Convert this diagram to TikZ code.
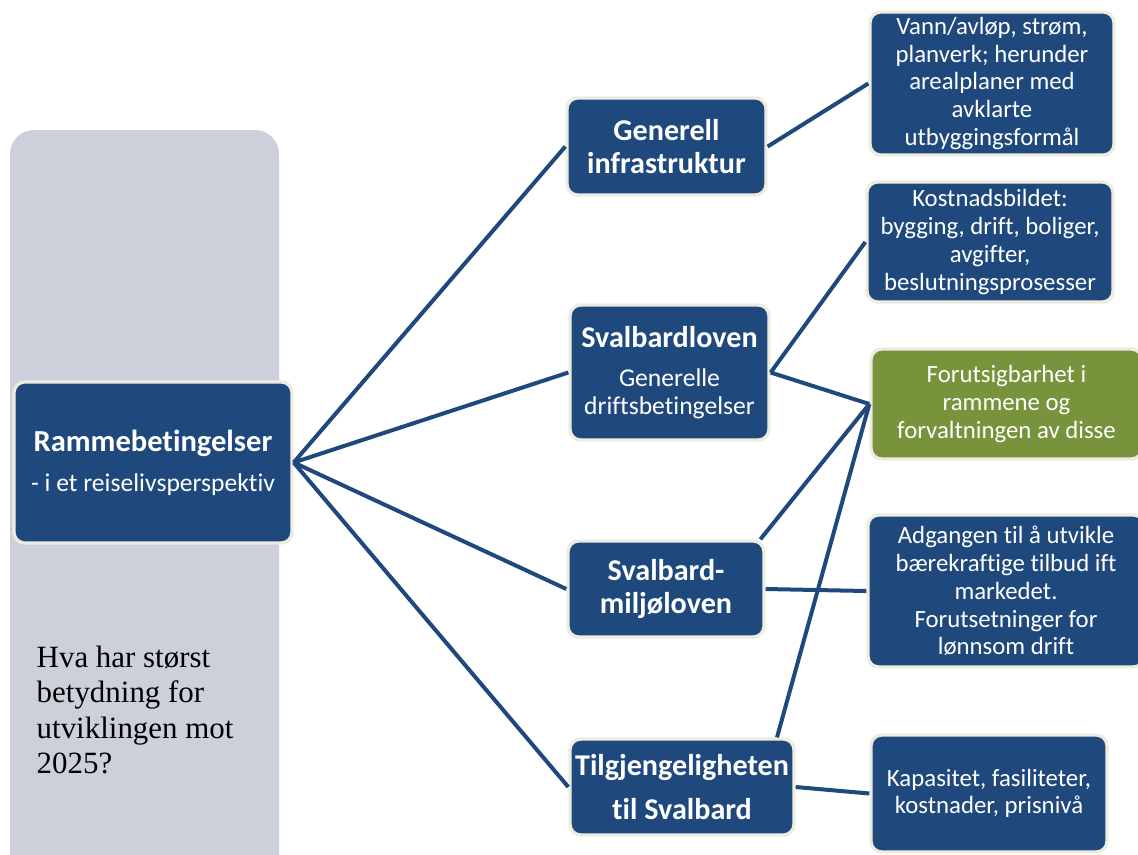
\documentclass[tikz,border=0pt]{standalone}
\usepackage{fontspec}
\setmainfont{Carlito}[RawFeature={-liga;-clig;-calt}]
\newfontfamily\questfont{Liberation Serif}
\definecolor{navy}{HTML}{1F497D}
\definecolor{cream}{HTML}{EEECE1}
\definecolor{olive}{HTML}{77933C}
\definecolor{panel}{HTML}{CCD0DA}
\tikzset{
	midbox/.style={draw=cream, line width=2.5pt, fill=navy, rounded corners=8pt, text=white, align=center, inner sep=0pt, font=\bfseries\fontsize{22.6}{24.75}\selectfont},
	infobox/.style={draw=cream, line width=2.5pt, fill=navy, rounded corners=8pt, text=white, align=center, inner sep=0pt, font=\fontsize{18.6}{20.8}\selectfont},
	link/.style={draw=navy, line width=3pt}
}
\begin{document}
\begin{tikzpicture}[x=0.75pt,y=-0.75pt]
\useasboundingbox (0,0) rectangle (1138,854);
\fill[panel, rounded corners=18pt] (10,130) rectangle (279,900);
\node[anchor=north west, align=left, font=\questfont\fontsize{23.2}{26.6}\selectfont] (quest) at (32,641) {Hva har størst\\betydning for\\utviklingen mot\\2025?};

\node[midbox, font=\fontsize{19.2}{22}\selectfont, minimum width=208.5pt, minimum height=120.75pt] (root) at (153,462.5) {{\bfseries\fontsize{22.9}{26}\selectfont Rammebetingelser}\\[8pt]- i et reiselivsperspektiv};

\node[midbox, minimum width=149.25pt, minimum height=72.75pt] (infra) at (666.5,146.5) {Generell\\infrastruktur};
\node[midbox, font=\fontsize{19.2}{21}\selectfont, minimum width=149.25pt, minimum height=101.25pt] (svl) at (669.5,372.5) {{\bfseries\fontsize{22.6}{26}\selectfont Svalbardloven}\\[8.5pt]Generelle\\driftsbetingelser};
\node[midbox, minimum width=147pt, minimum height=72pt] (milj) at (666,589) {Svalbard-\\miljøloven};
\node[midbox, minimum width=168pt, minimum height=72pt] (tilg) at (682,787) {Tilgjengeligheten\\[8pt]til Svalbard};

\node[infobox, minimum width=183pt, minimum height=107.25pt] (vann) at (992,83.5) {Vann/avløp, strøm,\\planverk; herunder\\arealplaner med\\avklarte\\utbyggingsformål};
\node[infobox, minimum width=184.5pt, minimum height=90pt] (kost) at (990,242) {Kostnadsbildet:\\bygging, drift, boliger,\\avgifter,\\beslutningsprosesser};
\node[infobox, fill=olive, minimum width=203.25pt, minimum height=82.5pt] (forut) at (1006.5,404) {Forutsigbarhet i\\rammene og\\forvaltningen av disse};
\node[infobox, minimum width=207pt, minimum height=114pt] (adg) at (1006,591) {Adgangen til å utvikle\\bærekraftige tilbud ift\\markedet.\\Forutsetninger for\\lønnsom drift};
\node[infobox, minimum width=177pt, minimum height=87.75pt] (kap) at (989,793.5) {Kapasitet, fasiliteter,\\kostnader, prisnivå};

\foreach \m in {infra,svl,milj,tilg}
{
	\draw[link] (root.east) -- (\m.west);
}
\draw[link] (infra.east) -- (vann.west);
\draw[link] (svl.east) -- (kost.west);
\draw[link] (svl.east) -- (forut.west);
\draw[link] ([xshift=-4pt]milj.north east) -- (forut.west);
\draw[link] ([xshift=-14pt]tilg.north east) -- (forut.west);
\draw[link] (milj.east) -- (adg.west);
\draw[link] (tilg.east) -- (kap.west);
\end{tikzpicture}
\end{document}
